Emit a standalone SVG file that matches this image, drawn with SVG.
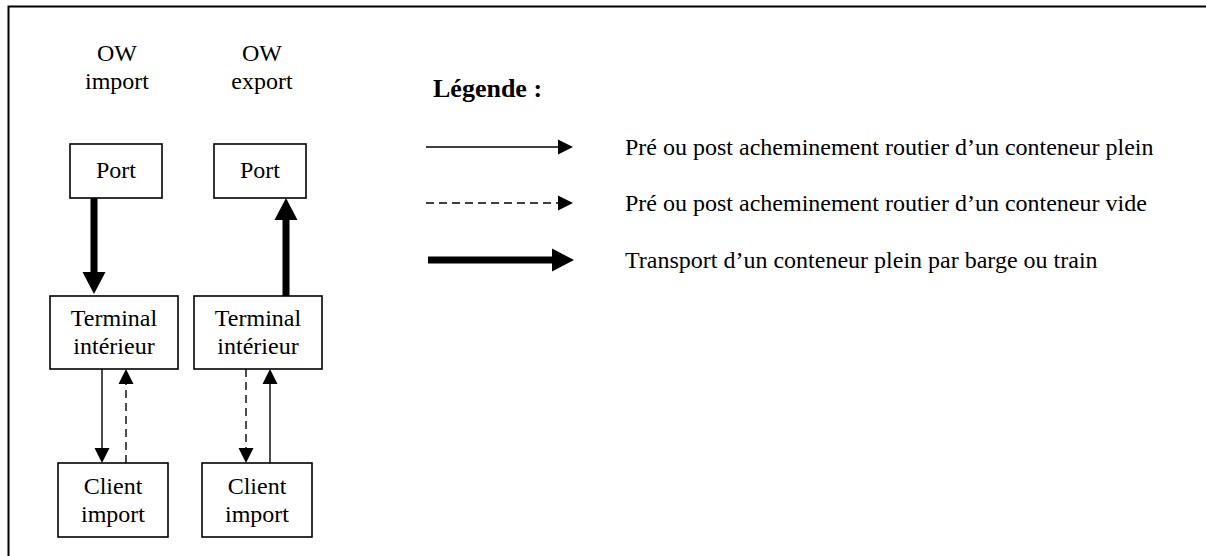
<svg xmlns="http://www.w3.org/2000/svg" width="1206" height="556" viewBox="0 0 1206 556">
<style>
text{font-family:"Liberation Serif","Times New Roman",serif;font-size:24px;fill:#000}
.c{text-anchor:middle}
.b{font-weight:bold;font-size:26px}
.box{fill:#fff;stroke:#000;stroke-width:1.6}
.thin{stroke:#000;stroke-width:1.4;fill:none}
.dash{stroke:#000;stroke-width:1.4;fill:none;stroke-dasharray:8 5}
.thick{stroke:#000;stroke-width:7;fill:none}
</style>
<defs>
<marker id="ah" markerUnits="userSpaceOnUse" markerWidth="16" markerHeight="16" refX="0" refY="7.5" orient="auto" overflow="visible">
<path d="M0,0 L15,7.5 L0,15 z" fill="#000"/>
</marker>
<marker id="ahT" markerUnits="userSpaceOnUse" markerWidth="24" markerHeight="24" refX="0" refY="11.5" orient="auto" overflow="visible">
<path d="M0,0 L22,11.5 L0,23 z" fill="#000"/>
</marker>
</defs>
<rect width="1206" height="556" fill="#fff"/>
<path d="M8.5,560 V6.5 H1210" fill="none" stroke="#000" stroke-width="2"/>

<g id="header-import"><text class="c" x="117" y="61">OW</text><text class="c" x="117" y="89">import</text></g>
<g id="header-export"><text class="c" x="262" y="61">OW</text><text class="c" x="262" y="89">export</text></g>

<g id="port-import"><rect class="box" x="70" y="144" width="92" height="54"/><text class="c" x="116" y="178">Port</text></g>
<g id="port-export"><rect class="box" x="214" y="144" width="92" height="54"/><text class="c" x="260" y="178">Port</text></g>
<g id="terminal-import"><rect class="box" x="50" y="296" width="128" height="73"/><text class="c" x="114" y="326">Terminal</text><text class="c" x="114" y="354">intérieur</text></g>
<g id="terminal-export"><rect class="box" x="194" y="296" width="128" height="73"/><text class="c" x="258" y="326">Terminal</text><text class="c" x="258" y="354">intérieur</text></g>
<g id="client-import-1"><rect class="box" x="58" y="463" width="110" height="74"/><text class="c" x="113" y="494">Client</text><text class="c" x="113" y="522">import</text></g>
<g id="client-import-2"><rect class="box" x="202" y="463" width="110" height="74"/><text class="c" x="257" y="494">Client</text><text class="c" x="257" y="522">import</text></g>

<g id="connectors">
<line class="thick" x1="94" y1="198" x2="94" y2="272" marker-end="url(#ahT)"/>
<line class="thick" x1="286" y1="296" x2="286" y2="220" marker-end="url(#ahT)"/>
<line class="thin" x1="102" y1="369" x2="102" y2="448" marker-end="url(#ah)"/>
<line class="dash" x1="126" y1="463" x2="126" y2="384" marker-end="url(#ah)"/>
<line class="dash" x1="246" y1="369" x2="246" y2="448" marker-end="url(#ah)"/>
<line class="thin" x1="270" y1="463" x2="270" y2="384" marker-end="url(#ah)"/>
</g>

<g id="legend">
<text class="b" x="433" y="97">Légende :</text>
<line class="thin" x1="426" y1="147" x2="558" y2="147" marker-end="url(#ah)"/>
<line class="dash" x1="426" y1="203" x2="558" y2="203" marker-end="url(#ah)"/>
<line class="thick" x1="428" y1="260" x2="552" y2="260" marker-end="url(#ahT)"/>
<text x="625" y="155">Pré ou post acheminement routier d’un conteneur plein</text>
<text x="625" y="211">Pré ou post acheminement routier d’un conteneur vide</text>
<text x="625" y="268">Transport d’un conteneur plein par barge ou train</text>
</g>
</svg>
